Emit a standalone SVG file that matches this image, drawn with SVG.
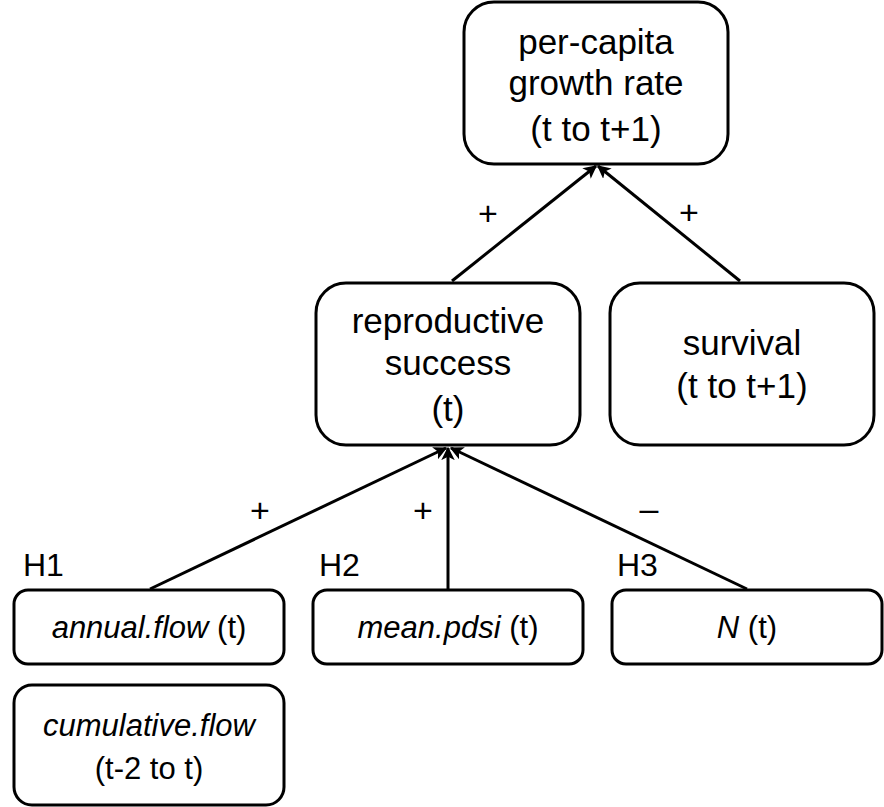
<svg xmlns="http://www.w3.org/2000/svg" width="884" height="807" viewBox="0 0 884 807">
<defs>
<style>
.box{fill:#fff;stroke:#000;stroke-width:3}
.t{font-family:"Liberation Sans",Arial,sans-serif;font-size:35px;text-anchor:middle;fill:#000}
.s{font-family:"Liberation Sans",Arial,sans-serif;font-size:31px;text-anchor:middle;fill:#000}
.h{font-family:"Liberation Sans",Arial,sans-serif;font-size:32px;fill:#000}
.lab{font-family:"Liberation Sans",Arial,sans-serif;font-size:34px;text-anchor:middle;fill:#000}
.c{stroke:#000;stroke-width:3;fill:none;marker-end:url(#ah)}
</style>
<marker id="ah" viewBox="0 0 10 10" refX="9" refY="5" markerWidth="4.5" markerHeight="4.5" orient="auto" markerUnits="strokeWidth">
<path d="M0,0 L10,5 L0,10 L2.5,5 z" fill="#000"/>
</marker>
</defs>
<rect width="884" height="807" fill="#fff"/>
<g id="connectors">
<line class="c" x1="452" y1="281" x2="596" y2="166"/>
<line class="c" x1="740" y1="281" x2="598" y2="166"/>
<line class="c" x1="150" y1="589" x2="446" y2="448"/>
<line class="c" x1="448" y1="589" x2="448" y2="448"/>
<line class="c" x1="747" y1="589" x2="451" y2="448"/>
<text class="lab" x="488" y="225">+</text>
<text class="lab" x="689" y="224">+</text>
<text class="lab" x="260" y="522">+</text>
<text class="lab" x="423" y="522">+</text>
<text class="lab" x="649" y="520">–</text>
</g>
<g id="growth">
<rect class="box" x="464" y="2" width="264" height="162" rx="30"/>
<text class="t" x="596" y="54">per-capita</text>
<text class="t" x="596" y="95">growth rate</text>
<text class="t" x="596" y="141">(t to t+1)</text>
</g>
<g id="reproductive">
<rect class="box" x="316" y="283" width="264" height="162" rx="30"/>
<text class="t" x="448" y="333">reproductive</text>
<text class="t" x="448" y="375">success</text>
<text class="t" x="448" y="421">(t)</text>
</g>
<g id="survival">
<rect class="box" x="610" y="283" width="264" height="162" rx="30"/>
<text class="t" x="742" y="355">survival</text>
<text class="t" x="742" y="398">(t to t+1)</text>
</g>
<g id="annual">
<text class="h" x="23" y="576">H1</text>
<rect class="box" x="14" y="590" width="270" height="74" rx="14"/>
<text class="s" x="149" y="638"><tspan font-style="italic">annual.flow</tspan> (t)</text>
</g>
<g id="pdsi">
<text class="h" x="319" y="576">H2</text>
<rect class="box" x="313" y="590" width="270" height="74" rx="14"/>
<text class="s" x="448" y="638"><tspan font-style="italic">mean.pdsi</tspan> (t)</text>
</g>
<g id="N">
<text class="h" x="617" y="576">H3</text>
<rect class="box" x="612" y="590" width="270" height="74" rx="14"/>
<text class="s" x="747" y="638"><tspan font-style="italic">N</tspan> (t)</text>
</g>
<g id="cumulative">
<rect class="box" x="14" y="685" width="270" height="120" rx="18"/>
<text class="s" x="149" y="736" font-style="italic">cumulative.flow</text>
<text class="s" x="149" y="779">(t-2 to t)</text>
</g>
</svg>
